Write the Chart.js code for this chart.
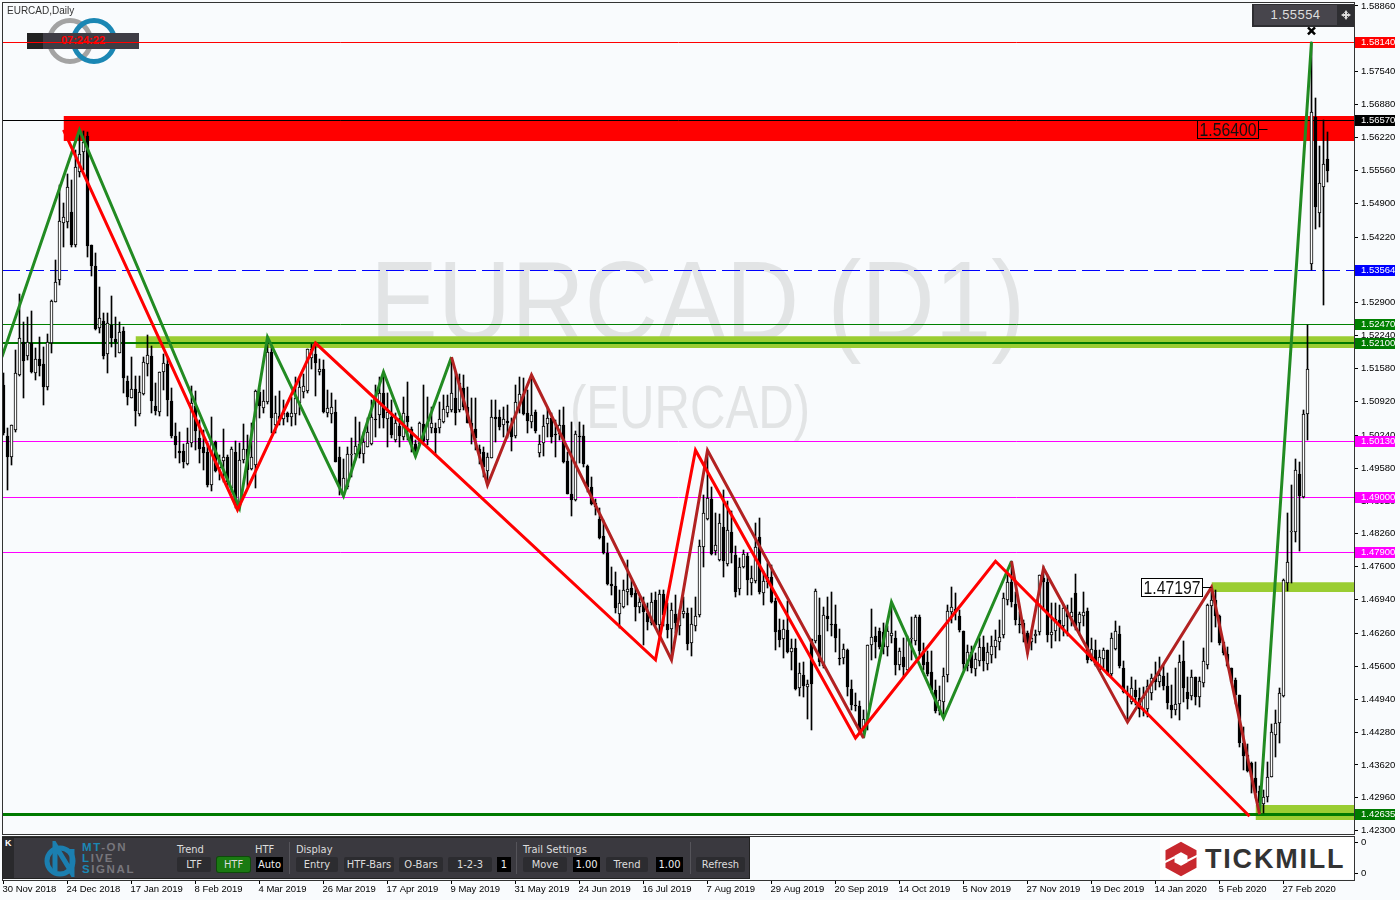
<!DOCTYPE html>
<html>
<head>
<meta charset="utf-8">
<title>EURCAD Daily</title>
<script src="https://cdn.jsdelivr.net/npm/chart.js"></script>
<style>
  html, body { margin: 0; padding: 0; width: 1400px; height: 900px; overflow: hidden; background: #f9fbfd; }
  canvas { position: absolute; left: 0; }
  #mainChart { top: 0; z-index: 1; }
  #paneChart { top: 836px; z-index: 1; }
  .under, .over { position: absolute; }
  .under { z-index: 0; }
  .over { z-index: 2; }
  #symbol { left: 7px; top: 5px; font: 10px "Liberation Sans", sans-serif; color: #333; }
  #clock { left: 27px; top: 33px; width: 112px; height: 16px; background: #3f3d45; color: #f00; font: bold 11px/15px "Liberation Sans", sans-serif; text-align: center; text-indent: 0; }
  #clock i { position: absolute; left: 0; top: 0; width: 16px; height: 16px; background: #222; }
  #priceBox { left: 1252px; top: 4px; width: 102px; height: 23px; background: #2e2e32; }
  #priceBox b { position: absolute; left: 2px; top: 1px; width: 83px; height: 20px; background: #47454c; color: #ddd; font: 13px/20px "Liberation Sans", sans-serif; text-align: center; letter-spacing: .4px; }
  #priceBox svg { position: absolute; left: 89px; top: 6px; }
  #toolbar { left: 2px; top: 837px; width: 748px; height: 42px; background: #3a393f; box-shadow: inset 0 0 0 1px #222; font: 11px "DejaVu Sans Condensed", "Liberation Sans", sans-serif; color: #ddd; }
  #toolbar span { position: absolute; white-space: nowrap; }
  #toolbar .cap { top: 6px; }
  #toolbar .btn { top: 20px; height: 15px; line-height: 15px; text-align: center; background: #2c2c30; border-radius: 2px; }
  #toolbar .val { background: #000; color: #eee; border-radius: 0; }
  #toolbar .on { background: #1a7a12; box-shadow: 0 0 0 1px #0d4a0a; }
  #toolbar .sep { top: 5px; width: 1px; height: 32px; background: #55545a; }
  #toolbar .strip { left: 1px; top: 1px; width: 11px; height: 40px; background: #29292c; color: #fff; font: bold 9px/11px "Liberation Sans", sans-serif; text-indent: 2px; }
  #toolbar .brand { left: 80px; font: bold 11.5px/11px "Liberation Sans", sans-serif; letter-spacing: 1.6px; color: #77767c; }
  #toolbar .brand em { font-style: normal; color: #1b87b4; }
  #logoPanel { left: 1160px; top: 837px; width: 194px; height: 42px; background: #fff; }
  #logoPanel div { position: absolute; left: 45px; top: 7px; font: bold 27px/30px "Liberation Sans", sans-serif; letter-spacing: 1.8px; color: #333; }
  #logoPanel svg { position: absolute; left: 3px; top: 3px; }
</style>
</head>
<body>
<svg class="under" style="left:0;top:0" width="140" height="70">
  <circle cx="70" cy="41" r="20.5" fill="none" stroke="#a3a3a3" stroke-width="5"/>
  <circle cx="94" cy="41" r="20.5" fill="none" stroke="#1b87b4" stroke-width="5"/>
</svg>
<div class="under" id="clock"><i></i>07:24:22</div>

<canvas id="mainChart" width="1400" height="836"></canvas>
<canvas id="paneChart" width="1400" height="64"></canvas>

<div class="over" id="symbol">EURCAD,Daily</div>
<div class="over" id="priceBox"><b>1.55554</b>
  <svg width="10" height="10"><path d="M5 0L7 3H6V4H7V3L10 5L7 7V6H6V7L7 7L5 10L3 7H4V6H3V7L0 5L3 3V4H4V3H3Z" fill="#ddd"/></svg>
</div>
<div class="over" id="toolbar">
  <span class="strip">K</span>
  <svg style="position:absolute;left:40px;top:4px" width="40" height="36">
    <circle cx="18" cy="20" r="13" fill="none" stroke="#1b7fb0" stroke-width="5"/>
    <path d="M13 30V4L30 32V8" fill="none" stroke="#1b7fb0" stroke-width="5"/>
  </svg>
  <span class="brand" style="top:5px"><em>MT</em>-ON</span>
  <span class="brand" style="top:16px"><em>L</em>IVE</span>
  <span class="brand" style="top:27px"><em>S</em>IGNAL</span>
  <span class="cap" style="left:175px">Trend</span>
  <span class="btn" style="left:175px;width:34px">LTF</span>
  <span class="btn on" style="left:215px;width:33px">HTF</span>
  <span class="cap" style="left:253px">HTF</span>
  <span class="btn val" style="left:254px;width:27px">Auto</span>
  <span class="sep" style="left:287px"></span>
  <span class="cap" style="left:294px">Display</span>
  <span class="btn" style="left:294px;width:42px">Entry</span>
  <span class="btn" style="left:342px;width:50px">HTF-Bars</span>
  <span class="btn" style="left:397px;width:44px">O-Bars</span>
  <span class="btn" style="left:446px;width:44px">1-2-3</span>
  <span class="btn val" style="left:495px;width:14px">1</span>
  <span class="sep" style="left:514px"></span>
  <span class="cap" style="left:521px">Trail Settings</span>
  <span class="btn" style="left:521px;width:44px">Move</span>
  <span class="btn val" style="left:571px;width:27px">1.00</span>
  <span class="btn" style="left:604px;width:42px">Trend</span>
  <span class="btn val" style="left:654px;width:27px">1.00</span>
  <span class="sep" style="left:688px"></span>
  <span class="btn" style="left:694px;width:49px">Refresh</span>
</div>
<div class="over" id="logoPanel">
  <svg width="36" height="38"><path d="M18 7L29 13V25L18 31L7 25V13Z" fill="none" stroke="#c8282e" stroke-width="9"/><path d="M0 23L12 17M24 21L36 15" stroke="#fff" stroke-width="2"/></svg>
  <div>TICKMILL</div>
</div>

<script>
// bars
const opens = [
  1.5125,1.5022,1.4981,1.5035,1.5145,1.5212,1.5184,1.5209,1.5149,1.5177,1.5167,1.5120,1.5209,1.5291,1.5335,1.5451,
  1.5453,1.5472,1.5406,1.5552,1.5592,1.5625,1.5406,1.5364,1.5239,1.5254,1.5187,1.5246,1.5217,1.5189,1.5234,1.5132,
  1.5098,1.5117,1.5066,1.5106,1.5167,1.5183,1.5083,1.5070,1.5151,1.5167,1.5093,1.5022,1.4992,1.4993,1.4967,1.5008,
  1.5083,1.5018,1.5001,1.4991,1.4925,1.5010,1.4958,1.4973,1.4980,1.4918,1.4991,1.4884,1.4975,1.4997,1.4956,1.4965,
  1.5110,1.5079,1.5091,1.5191,1.5044,1.5062,1.5056,1.5068,1.5061,1.5066,1.5088,1.5110,1.5113,1.5180,1.5188,1.5151,
  1.5157,1.5069,1.5066,1.5070,1.4981,1.4904,1.4921,1.4984,1.4986,1.5006,1.4987,1.5001,1.5007,1.5056,1.5064,1.5108,
  1.5056,1.5060,1.5014,1.5042,1.5021,1.5062,1.5036,1.5006,1.5006,1.5046,1.5014,1.5039,1.5039,1.5039,1.5051,1.5068,
  1.5074,1.5098,1.5074,1.5118,1.5080,1.5048,1.5036,1.4996,1.4991,1.4953,1.4978,1.5061,1.5060,1.5045,1.5053,1.5045,
  1.5023,1.5085,1.5107,1.5068,1.5051,1.5070,1.4989,1.5008,1.5046,1.5059,1.5027,1.5027,1.5045,1.4972,1.4907,1.4894,
  1.5023,1.5023,1.4963,1.4920,1.4887,1.4856,1.4822,1.4787,1.4725,1.4722,1.4665,1.4680,1.4710,1.4717,1.4707,1.4680,
  1.4689,1.4668,1.4647,1.4693,1.4642,1.4705,1.4645,1.4635,1.4665,1.4641,1.4665,1.4668,1.4606,1.4641,1.4663,1.4800,
  1.4856,1.4897,1.4791,1.4774,1.4840,1.4766,1.4829,1.4784,1.4715,1.4759,1.4782,1.4727,1.4731,1.4820,1.4708,1.4729,
  1.4739,1.4692,1.4632,1.4614,1.4632,1.4588,1.4597,1.4517,1.4543,1.4518,1.4614,1.4610,1.4622,1.4560,1.4662,1.4645,
  1.4644,1.4577,1.4577,1.4592,1.4515,1.4482,1.4481,1.4432,1.4452,1.4602,1.4620,1.4630,1.4629,1.4599,1.4620,1.4617,
  1.4562,1.4579,1.4552,1.4614,1.4610,1.4660,1.4591,1.4568,1.4548,1.4513,1.4470,1.4488,1.4542,1.4670,1.4676,1.4662,
  1.4630,1.4560,1.4589,1.4555,1.4570,1.4599,1.4565,1.4582,1.4598,1.4609,1.4622,1.4694,1.4729,1.4685,1.4645,1.4648,
  1.4627,1.4608,1.4620,1.4629,1.4737,1.4729,1.4622,1.4631,1.4654,1.4640,1.4670,1.4660,1.4707,1.4647,1.4662,1.4672,
  1.4572,1.4593,1.4553,1.4575,1.4593,1.4544,1.4595,1.4625,1.4557,1.4505,1.4488,1.4513,1.4496,1.4473,1.4475,1.4506,
  1.4538,1.4529,1.4540,1.4520,1.4482,1.4472,1.4484,1.4570,1.4508,1.4501,1.4538,1.4499,1.4527,1.4562,1.4681,1.4693,
  1.4661,1.4608,1.4584,1.4556,1.4532,1.4502,1.4407,1.4382,1.4365,1.4336,1.4310,1.4283,1.4298,1.4338,1.4423,1.4447,
  1.4500,1.4727,1.4830,1.4830,1.4946,1.4900,1.5067,1.5368,1.5663,1.5470,1.5522,1.5579
];
const highs = [
  1.5149,1.5038,1.5045,1.5195,1.5308,1.5252,1.5262,1.5274,1.5199,1.5221,1.5202,1.5228,1.5296,1.5376,1.5527,1.5490,
  1.5549,1.5537,1.5597,1.5633,1.5634,1.5632,1.5406,1.5389,1.5321,1.5269,1.5269,1.5304,1.5262,1.5252,1.5242,1.5142,
  1.5181,1.5142,1.5142,1.5182,1.5226,1.5203,1.5129,1.5152,1.5187,1.5182,1.5119,1.5048,1.5030,1.5007,1.5038,1.5122,
  1.5112,1.5055,1.5035,1.5008,1.5060,1.5013,1.4985,1.5037,1.4985,1.5001,1.5012,1.5008,1.5047,1.5025,1.5048,1.5114,
  1.5118,1.5115,1.5220,1.5202,1.5103,1.5113,1.5094,1.5071,1.5101,1.5141,1.5141,1.5148,1.5198,1.5208,1.5212,1.5178,
  1.5176,1.5115,1.5108,1.5094,1.5001,1.4977,1.5001,1.5018,1.5061,1.5051,1.5031,1.5058,1.5094,1.5125,1.5141,1.5151,
  1.5108,1.5094,1.5068,1.5058,1.5101,1.5131,1.5041,1.5014,1.5051,1.5125,1.5100,1.5081,1.5048,1.5091,1.5105,1.5105,
  1.5178,1.5151,1.5148,1.5145,1.5121,1.5098,1.5098,1.5004,1.5001,1.4988,1.5095,1.5095,1.5075,1.5081,1.5085,1.5058,
  1.5125,1.5140,1.5138,1.5115,1.5145,1.5075,1.5025,1.5065,1.5081,1.5068,1.5055,1.5075,1.5081,1.4991,1.5051,1.5033,
  1.5051,1.5045,1.4964,1.4941,1.4897,1.4877,1.4854,1.4807,1.4760,1.4750,1.4713,1.4734,1.4774,1.4734,1.4722,1.4700,
  1.4700,1.4687,1.4708,1.4710,1.4713,1.4713,1.4687,1.4687,1.4703,1.4673,1.4700,1.4677,1.4677,1.4700,1.4814,1.4904,
  1.4995,1.4921,1.4868,1.4866,1.4915,1.4891,1.4871,1.4801,1.4777,1.4794,1.4787,1.4761,1.4848,1.4858,1.4751,1.4767,
  1.4764,1.4697,1.4656,1.4654,1.4692,1.4614,1.4615,1.4567,1.4568,1.4533,1.4614,1.4715,1.4697,1.4680,1.4699,1.4709,
  1.4684,1.4634,1.4604,1.4594,1.4533,1.4507,1.4490,1.4473,1.4603,1.4676,1.4639,1.4637,1.4648,1.4640,1.4690,1.4630,
  1.4597,1.4617,1.4620,1.4660,1.4664,1.4664,1.4607,1.4590,1.4590,1.4533,1.4520,1.4557,1.4684,1.4719,1.4707,1.4674,
  1.4631,1.4603,1.4600,1.4587,1.4617,1.4620,1.4607,1.4620,1.4633,1.4654,1.4707,1.4751,1.4772,1.4710,1.4670,1.4654,
  1.4630,1.4633,1.4633,1.4744,1.4761,1.4744,1.4687,1.4687,1.4684,1.4684,1.4684,1.4697,1.4746,1.4670,1.4710,1.4677,
  1.4617,1.4613,1.4593,1.4597,1.4593,1.4627,1.4652,1.4640,1.4570,1.4520,1.4538,1.4533,1.4516,1.4519,1.4532,1.4544,
  1.4569,1.4579,1.4562,1.4546,1.4522,1.4556,1.4582,1.4611,1.4539,1.4552,1.4539,1.4539,1.4596,1.4686,1.4713,1.4713,
  1.4663,1.4609,1.4599,1.4556,1.4536,1.4502,1.4439,1.4405,1.4368,1.4368,1.4319,1.4311,1.4368,1.4445,1.4472,1.4516,
  1.4735,1.4868,1.4924,1.4976,1.4970,1.5075,1.5245,1.5814,1.5701,1.5605,1.5657,1.5633
];
const lows = [
  1.5025,1.4914,1.4965,1.5030,1.5142,1.5098,1.5175,1.5150,1.5134,1.5142,1.5084,1.5115,1.5190,1.5291,1.5325,1.5403,
  1.5440,1.5402,1.5402,1.5543,1.5557,1.5381,1.5343,1.5235,1.5230,1.5177,1.5149,1.5202,1.5182,1.5189,1.5108,1.5084,
  1.5098,1.5042,1.5062,1.5105,1.5142,1.5068,1.5065,1.5062,1.5115,1.5062,1.5018,1.4978,1.4968,1.4958,1.4965,1.5000,
  1.4995,1.4968,1.4955,1.4921,1.4913,1.4951,1.4935,1.4931,1.4921,1.4911,1.4878,1.4881,1.4968,1.4921,1.4955,1.4918,
  1.5058,1.5068,1.5086,1.5028,1.5028,1.5044,1.5044,1.5051,1.5043,1.5044,1.5064,1.5098,1.5108,1.5158,1.5103,1.5145,
  1.5068,1.5060,1.5048,1.4971,1.4904,1.4902,1.4917,1.4941,1.4974,1.4979,1.4969,1.5000,1.5004,1.5021,1.5038,1.5038,
  1.5001,1.5018,1.5011,1.5001,1.5014,1.5014,1.4991,1.4981,1.5004,1.5004,1.5004,1.5028,1.4984,1.5028,1.5049,1.5061,
  1.5071,1.5044,1.5071,1.5074,1.5048,1.5007,1.4994,1.4967,1.4941,1.4924,1.4978,1.5011,1.5035,1.5021,1.5018,1.4993,
  1.5018,1.5068,1.5065,1.5028,1.5038,1.5028,1.4981,1.4982,1.5021,1.5008,1.4981,1.5014,1.4969,1.4906,1.4861,1.4891,
  1.4968,1.4961,1.4911,1.4884,1.4864,1.4815,1.4786,1.4723,1.4703,1.4668,1.4636,1.4677,1.4683,1.4700,1.4652,1.4667,
  1.4603,1.4632,1.4643,1.4640,1.4623,1.4640,1.4616,1.4573,1.4627,1.4623,1.4657,1.4593,1.4580,1.4630,1.4660,1.4760,
  1.4854,1.4784,1.4784,1.4771,1.4739,1.4762,1.4767,1.4700,1.4704,1.4757,1.4704,1.4704,1.4727,1.4706,1.4684,1.4717,
  1.4687,1.4592,1.4599,1.4577,1.4587,1.4553,1.4513,1.4501,1.4499,1.4455,1.4433,1.4606,1.4560,1.4557,1.4630,1.4620,
  1.4588,1.4563,1.4565,1.4500,1.4472,1.4470,1.4426,1.4416,1.4433,1.4572,1.4577,1.4594,1.4584,1.4580,1.4607,1.4543,
  1.4553,1.4537,1.4550,1.4573,1.4603,1.4580,1.4553,1.4540,1.4506,1.4466,1.4462,1.4456,1.4528,1.4647,1.4654,1.4629,
  1.4553,1.4550,1.4547,1.4540,1.4560,1.4550,1.4553,1.4567,1.4577,1.4593,1.4617,1.4684,1.4680,1.4643,1.4627,1.4609,
  1.4585,1.4593,1.4607,1.4623,1.4674,1.4609,1.4597,1.4610,1.4610,1.4620,1.4620,1.4640,1.4633,1.4623,1.4640,1.4567,
  1.4570,1.4560,1.4551,1.4557,1.4543,1.4540,1.4593,1.4557,1.4506,1.4453,1.4485,1.4483,1.4459,1.4460,1.4459,1.4492,
  1.4512,1.4519,1.4512,1.4475,1.4457,1.4462,1.4452,1.4489,1.4475,1.4492,1.4482,1.4479,1.4518,1.4554,1.4609,1.4639,
  1.4603,1.4582,1.4559,1.4526,1.4484,1.4398,1.4352,1.4348,1.4305,1.4295,1.4265,1.4265,1.4288,1.4337,1.4378,1.4406,
  1.4498,1.4711,1.4727,1.4810,1.4792,1.4898,1.5014,1.5356,1.5438,1.5442,1.5286,1.5533
];
const closes = [
  1.5028,1.4980,1.5044,1.5149,1.5219,1.5174,1.5212,1.5152,1.5177,1.5164,1.5120,1.5212,1.5294,1.5331,1.5455,1.5463,
  1.5522,1.5406,1.5562,1.5588,1.5612,1.5405,1.5363,1.5237,1.5259,1.5184,1.5250,1.5220,1.5211,1.5231,1.5139,1.5100,
  1.5117,1.5072,1.5110,1.5171,1.5185,1.5092,1.5072,1.5152,1.5169,1.5094,1.5022,1.5005,1.4989,1.4970,1.5009,1.5088,
  1.5032,1.4997,1.4989,1.4925,1.5013,1.4953,1.4975,1.4981,1.4931,1.4997,1.4883,1.4975,1.4997,1.4955,1.4980,1.5112,
  1.5082,1.5093,1.5191,1.5058,1.5068,1.5056,1.5069,1.5061,1.5069,1.5099,1.5120,1.5123,1.5198,1.5198,1.5170,1.5158,
  1.5071,1.5078,1.5081,1.4971,1.4921,1.4939,1.4987,1.4987,1.5003,1.4987,1.5010,1.5031,1.5060,1.5054,1.5108,1.5058,
  1.5070,1.5024,1.5049,1.5022,1.5068,1.5051,1.5004,1.4987,1.5049,1.5012,1.5048,1.5048,1.5029,1.5056,1.5076,1.5083,
  1.5108,1.5068,1.5128,1.5080,1.5049,1.5038,1.5019,1.4986,1.4961,1.4980,1.5061,1.5057,1.5040,1.5057,1.5048,1.5021,
  1.5090,1.5106,1.5067,1.5053,1.5065,1.5033,1.5006,1.5043,1.5058,1.5021,1.5025,1.5045,1.4971,1.4906,1.4893,1.5026,
  1.5021,1.4966,1.4920,1.4885,1.4879,1.4817,1.4788,1.4725,1.4722,1.4677,1.4687,1.4713,1.4715,1.4703,1.4680,1.4689,
  1.4669,1.4650,1.4689,1.4643,1.4705,1.4663,1.4633,1.4673,1.4647,1.4668,1.4672,1.4605,1.4645,1.4661,1.4802,1.4867,
  1.4898,1.4786,1.4804,1.4848,1.4771,1.4834,1.4788,1.4710,1.4759,1.4785,1.4733,1.4737,1.4800,1.4710,1.4732,1.4739,
  1.4690,1.4629,1.4612,1.4635,1.4588,1.4597,1.4515,1.4547,1.4521,1.4525,1.4525,1.4712,1.4568,1.4664,1.4656,1.4643,
  1.4616,1.4575,1.4594,1.4519,1.4483,1.4480,1.4433,1.4454,1.4603,1.4619,1.4609,1.4599,1.4599,1.4630,1.4626,1.4562,
  1.4591,1.4558,1.4616,1.4617,1.4660,1.4590,1.4563,1.4544,1.4513,1.4470,1.4492,1.4541,1.4672,1.4679,1.4670,1.4633,
  1.4565,1.4589,1.4557,1.4575,1.4599,1.4571,1.4589,1.4601,1.4613,1.4619,1.4697,1.4729,1.4690,1.4653,1.4642,1.4625,
  1.4603,1.4617,1.4625,1.4744,1.4730,1.4622,1.4629,1.4655,1.4640,1.4677,1.4659,1.4670,1.4638,1.4665,1.4670,1.4573,
  1.4595,1.4562,1.4579,1.4592,1.4544,1.4617,1.4630,1.4560,1.4508,1.4506,1.4516,1.4498,1.4475,1.4499,1.4520,1.4536,
  1.4529,1.4542,1.4520,1.4487,1.4472,1.4484,1.4569,1.4516,1.4494,1.4538,1.4499,1.4530,1.4570,1.4683,1.4694,1.4661,
  1.4606,1.4586,1.4561,1.4529,1.4502,1.4407,1.4380,1.4350,1.4338,1.4305,1.4285,1.4298,1.4338,1.4429,1.4447,1.4506,
  1.4733,1.4769,1.4832,1.4954,1.4902,1.5067,1.5157,1.5673,1.5482,1.5531,1.5569,1.5555
];

// zigzags: bar index and price, null breaks the line
const redBars    = [15, 58.5, 78, 163, 173, 213, 248, 311.5];
const redPrices  = [1.5637, 1.4874, 1.5209, 1.4573, 1.4994, 1.4416, 1.4771, 1.4259];
const brownBars   = [112, 121, 132, 167, 176, 215, 234, 252, 256, 260, 281, 302, 314];
const brownPrices = [1.5181, 1.4924, 1.5145, 1.4573, 1.4994, 1.4416, null, 1.4771, 1.4587, 1.4757, 1.4448, 1.4719, 1.4263];
const greenBars   = [-0.4, 19, 59, 66, 85, 95, 103, 112, 160, 215, 222, 235, 252, 280, 314, 327];
const greenPrices = [1.5181, 1.5637, 1.4878, 1.5221, 1.4902, 1.5151, 1.4982, 1.5181, null, 1.4416, 1.4689, 1.4456, 1.4771, null, 1.4263, 1.5814];

// horizontal levels and their axis tags
const levelPrices = [1.5814, 1.5657, 1.53564, 1.5247, 1.521, 1.5013, 1.49, 1.479, 1.42635];
const levelLabels = ['1.58140', '1.56570', '1.53564', '1.52470', '1.52100', '1.50130', '1.49000', '1.47900', '1.42635'];

// supply / demand zones
const zoneStarts  = [15, 33, 302, 313];
const zoneTops    = [1.5665, 1.5223, 1.4729, 1.42816];
const zoneBottoms = [1.5615, 1.5199, 1.4709, 1.42514];

// price labels with a leader
const noteBars   = [316, 302];
const notePrices = [1.564, 1.47197];
const noteLabels = ['1.56400', '1.47197'];

const peakBar = 327;
const peakMark = 1.5836;

const priceTicks = [1.5886, 1.5754, 1.5688, 1.5622, 1.5556, 1.549, 1.5422, 1.5356, 1.529, 1.5224, 1.5158, 1.5092,
  1.5024, 1.4958, 1.4892, 1.4826, 1.476, 1.4694, 1.4626, 1.456, 1.4494, 1.4428, 1.4362, 1.4296, 1.423];

const dateBars = [0, 16, 32, 48, 64, 80, 96, 112, 128, 144, 160, 176, 192, 208, 224, 240, 256, 272, 288, 304, 320];
const dateLabels = ['30 Nov 2018', '24 Dec 2018', '17 Jan 2019', '8 Feb 2019', '4 Mar 2019', '26 Mar 2019', '17 Apr 2019',
  '9 May 2019', '31 May 2019', '24 Jun 2019', '16 Jul 2019', '7 Aug 2019', '29 Aug 2019', '20 Sep 2019', '14 Oct 2019',
  '5 Nov 2019', '27 Nov 2019', '19 Dec 2019', '14 Jan 2020', '5 Feb 2020', '27 Feb 2020'];

const paneTicks = [0.85, 0.15];
const paneLabel = '0';

// styles
const axisFont = { family: 'Liberation Sans', size: 9.5 };
const levelColors = ['#ff0000', '#000000', '#0000ff', '#008000', '#007a00', '#ff00ff', '#ff00ff', '#ff00ff', '#007a00'];
const levelWidths = [1, 1, 1, 1, 2, 1, 1, 1, 3];
const zoneColors = ['#ff0000', '#9acd32', '#9acd32', '#9acd32'];
const xMin = -0.375;
const xMax = 337.875;
const yMax = 1.5894;
const yMin = 1.42233;

const datasets = [];

function points(xs, ys) {
  return xs.map((x, i) => ({ x: x, y: ys[i] }));
}

function zigzag(xs, ys, color) {
  datasets.push({
    type: 'line', order: 0, data: points(xs, ys), borderColor: color, borderWidth: 3,
    pointRadius: 0, tension: 0, borderJoinStyle: 'miter', fill: false
  });
}

zigzag(redBars, redPrices, '#ff0000');
zigzag(brownBars, brownPrices, '#b22222');
zigzag(greenBars, greenPrices, '#228b22');

datasets.push({
  type: 'line', order: -1, data: [{ x: peakBar, y: peakMark }], showLine: false,
  pointStyle: 'crossRot', pointRadius: 5, pointBorderWidth: 2.5, pointBorderColor: '#000'
});

datasets.push({
  type: 'bar', order: 1, snapBar: true,
  data: opens.map((o, i) => ({ x: i, y: [o, closes[i]] })),
  barThickness: 3, maxBarThickness: 3, grouped: false,
  backgroundColor: opens.map((o, i) => (closes[i] >= o ? '#ffffff' : '#000000')),
  borderColor: '#000000', borderWidth: 1, borderSkipped: false
});
datasets.push({
  type: 'bar', order: 2, snapBar: true,
  data: lows.map((l, i) => ({ x: i, y: [l, highs[i]] })),
  barThickness: 1, maxBarThickness: 1, grouped: false,
  backgroundColor: '#000000'
});

levelPrices.forEach((p, i) => {
  datasets.push({
    type: 'line', order: 3, snapLine: levelWidths[i], data: [{ x: xMin, y: p }, { x: xMax, y: p }],
    borderColor: levelColors[i], borderWidth: levelWidths[i], pointRadius: 0,
    borderDash: i === 2 ? [18, 6] : []
  });
});

zoneStarts.forEach((s, i) => {
  datasets.push({
    type: 'line', order: 4, data: [{ x: s, y: zoneTops[i] }, { x: xMax, y: zoneTops[i] }],
    showLine: false, pointRadius: 0, backgroundColor: zoneColors[i], fill: '+1'
  });
  datasets.push({
    type: 'line', order: 4, data: [{ x: s, y: zoneBottoms[i] }, { x: xMax, y: zoneBottoms[i] }],
    showLine: false, pointRadius: 0, fill: false
  });
});

// put bars and level lines on whole pixels, the original is not antialiased
const snapPlugin = {
  id: 'snap',
  afterDatasetsUpdate(chart) {
    chart.data.datasets.forEach((ds, i) => {
      const els = chart.getDatasetMeta(i).data;
      if (ds.snapBar) {
        els.forEach(el => {
          el.y = Math.round(el.y);
          el.base = Math.round(el.base);
          if (el.base === el.y) el.base = el.y + 1;
        });
      }
      if (ds.snapLine) {
        const off = ds.snapLine % 2 ? 0.5 : 0;
        els.forEach(el => { el.y = Math.round(el.y) + off; });
      }
    });
  }
};

const watermarkPlugin = {
  id: 'watermark',
  beforeDatasetsDraw(chart) {
    const ctx = chart.ctx;
    ctx.save();
    ctx.fillStyle = '#e2e4e5';
    ctx.textAlign = 'left';
    ctx.textBaseline = 'alphabetic';
    ctx.font = '114px "Liberation Sans"';
    ctx.fillText('EURCAD (D1)', 370, 340, 655);
    ctx.font = '62px "Liberation Sans"';
    ctx.fillText('(EURCAD)', 570, 428, 240);
    ctx.restore();
  }
};

const framePlugin = {
  id: 'frame',
  afterDraw(chart) {
    const a = chart.chartArea;
    const ctx = chart.ctx;
    ctx.save();
    ctx.strokeStyle = '#333';
    ctx.lineWidth = 1;
    ctx.strokeRect(a.left + 0.5, a.top + 0.5, a.right - a.left - 1, a.bottom - a.top);
    ctx.restore();
  }
};

const tagPlugin = {
  id: 'tags',
  afterDraw(chart) {
    const ctx = chart.ctx;
    const x = chart.scales.x;
    const y = chart.scales.y;
    ctx.save();
    ctx.font = '9.5px "Liberation Sans"';
    ctx.textBaseline = 'middle';

    levelPrices.forEach((p, i) => {
      const py = Math.round(y.getPixelForValue(p));
      ctx.fillStyle = levelColors[i];
      ctx.fillRect(x.right, py - 5, 40, 11);
      ctx.fillStyle = '#fff';
      ctx.fillText(levelLabels[i], x.right + 6, py + 0.5);
    });

    noteLabels.forEach((t, i) => {
      const tip = x.getPixelForValue(noteBars[i]);
      const py = Math.ceil(y.getPixelForValue(notePrices[i])) + 0.5;
      const right = Math.round(tip - 10) + 0.5;
      ctx.strokeStyle = '#000';
      ctx.lineWidth = 1;
      if (i === 1) {
        ctx.fillStyle = '#fff';
        ctx.fillRect(right - 61, py - 9, 61, 18);
      }
      ctx.strokeRect(right - 61, py - 9, 61, 18);
      ctx.beginPath();
      ctx.moveTo(right, py);
      ctx.lineTo(tip, py);
      ctx.stroke();
      ctx.fillStyle = '#111';
      ctx.font = '19px "Liberation Sans"';
      ctx.textAlign = 'left';
      ctx.fillText(t, right - 59, py + 1, 57);
      ctx.font = '9.5px "Liberation Sans"';
    });
    ctx.restore();
  }
};

// keep tick labels from pushing the plot area in
function noScalePadding(scale) {
  scale.paddingTop = 0;
  scale.paddingBottom = 0;
  scale.paddingLeft = 0;
  scale.paddingRight = 0;
}

new Chart(document.getElementById('mainChart').getContext('2d'), {
  type: 'bar',
  data: { datasets: datasets },
  plugins: [snapPlugin, watermarkPlugin, framePlugin, tagPlugin],
  options: {
    responsive: false,
    animation: false,
    events: [],
    layout: { autoPadding: false, padding: { left: 2, top: 2, right: 0, bottom: 2 } },
    plugins: { legend: { display: false }, tooltip: { enabled: false } },
    scales: {
      x: { type: 'linear', min: xMin, max: xMax, offset: false, display: false },
      y: {
        position: 'right', min: yMin, max: yMax,
        grid: { drawOnChartArea: false, tickLength: 3, tickColor: '#000', tickWidth: 1 },
        border: { display: false },
        afterFit(scale) { scale.width = 45; noScalePadding(scale); },
        afterBuildTicks(scale) { scale.ticks = priceTicks.map(v => ({ value: v })); },
        ticks: {
          autoSkip: false, font: axisFont, color: '#000', padding: 3,
          callback: v => v.toFixed(5)
        }
      }
    }
  }
});

// lower indicator pane carries the date axis
new Chart(document.getElementById('paneChart').getContext('2d'), {
  type: 'line',
  data: { datasets: [{ data: [] }] },
  plugins: [framePlugin],
  options: {
    responsive: false,
    animation: false,
    events: [],
    layout: { autoPadding: false, padding: { left: 2, top: 0, right: 0, bottom: 0 } },
    plugins: { legend: { display: false }, tooltip: { enabled: false } },
    scales: {
      x: {
        type: 'linear', min: xMin, max: xMax,
        grid: { drawOnChartArea: false, tickLength: 4, tickColor: '#000' },
        border: { display: false },
        afterFit(scale) { scale.height = 20; noScalePadding(scale); },
        afterBuildTicks(scale) { scale.ticks = dateBars.map(v => ({ value: v })); },
        ticks: {
          autoSkip: false, maxRotation: 0, align: 'start', font: axisFont, color: '#000', padding: 0, labelOffset: -1,
          callback: (v, i) => dateLabels[i]
        }
      },
      y: {
        position: 'right', min: 0, max: 1,
        grid: { drawOnChartArea: false, tickLength: 3, tickColor: '#000' },
        border: { display: false },
        afterFit(scale) { scale.width = 45; noScalePadding(scale); },
        afterBuildTicks(scale) { scale.ticks = paneTicks.map(v => ({ value: v })); },
        ticks: { autoSkip: false, font: axisFont, color: '#000', padding: 3, callback: () => paneLabel }
      }
    }
  }
});
</script>
</body>
</html>
